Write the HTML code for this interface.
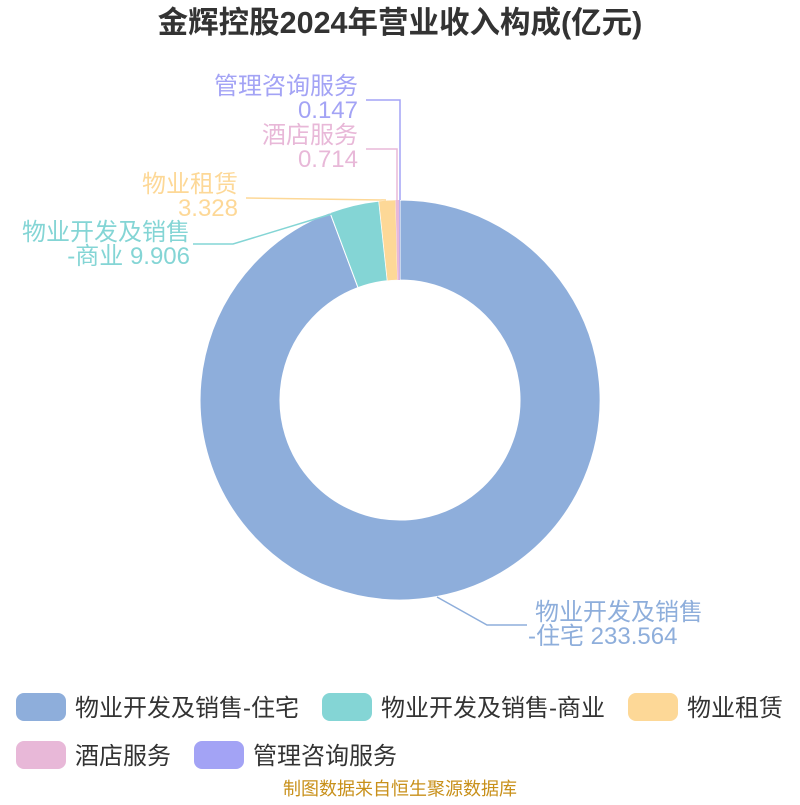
<!DOCTYPE html>
<html><head><meta charset="utf-8"><style>
body{margin:0;background:#fff;width:800px;height:800px;overflow:hidden;font-family:"Liberation Sans","Noto Sans CJK SC",sans-serif}
</style></head><body>
<svg width="800" height="800" xmlns="http://www.w3.org/2000/svg" font-family="Liberation Sans, Noto Sans CJK SC, sans-serif">
<text x="400" y="33" text-anchor="middle" font-size="30.5" font-weight="bold" fill="#333">金辉控股2024年营业收入构成(亿元)</text>
<path d="M400,200 A200,200 0 1 1 330.0,212.7 L358.0,287.6 A120,120 0 1 0 400,280 Z" fill="#8eaedb" stroke="#fff" stroke-width="1"/>
<path d="M330.0,212.7 A200,200 0 0 1 378.8,201.1 L387.3,280.7 A120,120 0 0 0 358.0,287.6 Z" fill="#84d5d5" stroke="#fff" stroke-width="1"/>
<path d="M378.8,201.1 A200,200 0 0 1 395.6,200.0 L397.4,280.0 A120,120 0 0 0 387.3,280.7 Z" fill="#fdd897" stroke="#fff" stroke-width="0.5"/>
<path d="M395.6,200.0 A200,200 0 0 1 399.3,200 L399.6,280 A120,120 0 0 0 397.4,280.0 Z" fill="#e8b8d8"/>
<path d="M399.3,200 A200,200 0 0 1 400,200 L400,280 A120,120 0 0 0 399.6,280 Z" fill="#a3a3f5"/>
<g fill="none" stroke-width="1.5">
<polyline points="437,597 487,625 527,625" stroke="#8eaedb"/>
<polyline points="338,212 233,244 193,244" stroke="#84d5d5"/>
<polyline points="386,200 246,198" stroke="#fdd897"/>
<polyline points="397,201 397,149 366,149" stroke="#e8b8d8"/>
<polyline points="400,200 400,100 366,100" stroke="#a3a3f5"/>
</g>
<g font-size="24">
<text x="535" y="620" fill="#8eaedb">物业开发及销售</text>
<text x="528" y="644" fill="#8eaedb">-住宅 233.564</text>
<text x="190" y="240" text-anchor="end" fill="#84d5d5">物业开发及销售</text>
<text x="190" y="264" text-anchor="end" fill="#84d5d5">-商业 9.906</text>
<text x="238" y="192" text-anchor="end" fill="#fdd897">物业租赁</text>
<text x="238" y="216" text-anchor="end" fill="#fdd897">3.328</text>
<text x="358" y="143" text-anchor="end" fill="#e8b8d8">酒店服务</text>
<text x="358" y="167" text-anchor="end" fill="#e8b8d8">0.714</text>
<text x="358" y="94" text-anchor="end" fill="#a3a3f5">管理咨询服务</text>
<text x="358" y="118" text-anchor="end" fill="#a3a3f5">0.147</text>
</g>
<g font-size="24" fill="#333">
<rect x="16" y="693" width="50" height="28" rx="8" fill="#8eaedb"/><text x="75" y="716">物业开发及销售-住宅</text>
<rect x="322" y="693" width="50" height="28" rx="8" fill="#84d5d5"/><text x="381" y="716">物业开发及销售-商业</text>
<rect x="628" y="693" width="50" height="28" rx="8" fill="#fdd897"/><text x="687" y="716">物业租赁</text>
<rect x="16" y="741" width="50" height="28" rx="8" fill="#e8b8d8"/><text x="75" y="764">酒店服务</text>
<rect x="194" y="741" width="50" height="28" rx="8" fill="#a3a3f5"/><text x="253" y="764">管理咨询服务</text>
</g>
<text x="400" y="795" text-anchor="middle" font-size="18" fill="#c8901a">制图数据来自恒生聚源数据库</text>
</svg>
</body></html>
